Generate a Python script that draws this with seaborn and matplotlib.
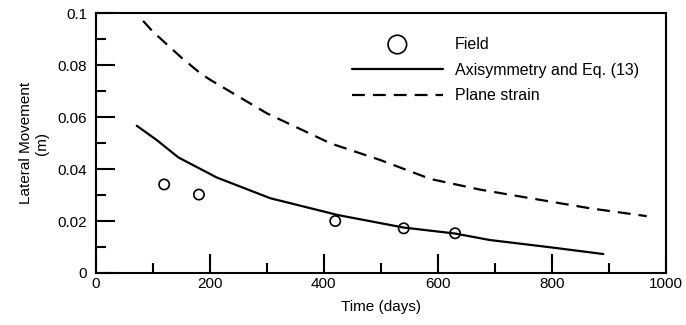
import matplotlib
matplotlib.use("Agg")
import matplotlib.pyplot as plt
import seaborn as sns
from matplotlib.ticker import MultipleLocator, FuncFormatter

# Field measurements
field_t = [120, 181, 420, 540, 630]
field_m = [0.0341, 0.0302, 0.0200, 0.0172, 0.0153]

# Axisymmetry and Eq. (13)
axi_t = [72, 107, 145, 212, 306, 425, 540, 630, 691, 797, 890]
axi_m = [0.0567, 0.0512, 0.0445, 0.0368, 0.0288, 0.0223, 0.0175, 0.0152, 0.0127, 0.0099, 0.0073]

# Plane strain
ps_t = [83, 100, 150, 183, 200, 300, 412, 499, 587, 674, 762, 867, 966]
ps_m = [0.0971, 0.0930, 0.0830, 0.0770, 0.0745, 0.0615, 0.0499, 0.0435, 0.0362, 0.0321, 0.0288, 0.0249, 0.0219]

sns.set_style("ticks", {"axes.edgecolor": "black", "text.color": "black",
                        "axes.labelcolor": "black", "xtick.color": "black",
                        "ytick.color": "black"})
plt.rcParams["font.family"] = ["Liberation Sans", "DejaVu Sans"]
fs = 11

fig = plt.figure(figsize=(6.86, 3.25), dpi=100)
ax = fig.add_axes([0.1395, 0.16, 0.8315, 0.799])

sns.scatterplot(x=field_t, y=field_m, ax=ax, s=55, facecolors="none",
                edgecolor="black", linewidth=1.2, label="Field", zorder=3)
sns.lineplot(x=axi_t, y=axi_m, ax=ax, color="black", linewidth=1.6,
             label="Axisymmetry and Eq. (13)")
sns.lineplot(x=ps_t, y=ps_m, ax=ax, color="black", linewidth=1.6,
             linestyle=(0, (5.8, 3.6)), label="Plane strain")

ax.set_xlim(0, 1000)
ax.set_ylim(0, 0.1)
ax.xaxis.set_major_locator(MultipleLocator(200))
ax.xaxis.set_minor_locator(MultipleLocator(100))
ax.yaxis.set_major_locator(MultipleLocator(0.02))
ax.yaxis.set_minor_locator(MultipleLocator(0.01))
ax.yaxis.set_major_formatter(FuncFormatter(lambda v, p: f"{v:g}"))

ax.tick_params(which="both", direction="in", top=False, right=False,
               width=1.5, labelsize=fs, colors="black")
ax.tick_params(axis="x", pad=3)
ax.tick_params(axis="y", pad=6)
ax.tick_params(which="major", length=14)
ax.tick_params(which="minor", length=7.5)
for s in ax.spines.values():
    s.set_linewidth(1.5)
    s.set_color("black")
    s.set_visible(True)

ax.set_xlabel("Time (days)", fontsize=fs, labelpad=6, color="black")
ax.set_ylabel("Lateral Movement\n(m)", fontsize=fs, labelpad=6, color="black")

leg = ax.legend(loc="upper left", bbox_to_anchor=(0.449, 0.91), frameon=False,
                fontsize=11.5, handlelength=5.7, handletextpad=0.75,
                labelspacing=0.68, borderpad=0, borderaxespad=0, markerscale=1.8)
for t in leg.get_texts():
    t.set_color("black")

fig.savefig("out.png", dpi=100)
